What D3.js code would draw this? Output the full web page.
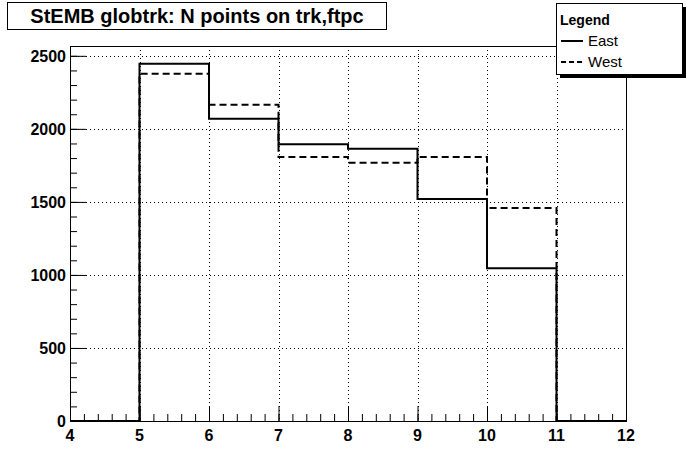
<!DOCTYPE html>
<html>
<head>
<meta charset="utf-8">
<script src="https://cdn.jsdelivr.net/npm/d3@7"></script>
<style>
  body { margin: 0; background: #fff; }
  svg text { font-family: "Liberation Sans", Arial, sans-serif; }
</style>
</head>
<body>
<svg width="696" height="468"></svg>
<script>
// histogram bins (edges) and counts per bin
var binEdges = [4, 5, 6, 7, 8, 9, 10, 11, 12];
var eastCounts = [0, 2445, 2070, 1895, 1863, 1520, 1045, 0];
var westCounts = [0, 2378, 2165, 1808, 1768, 1808, 1458, 0];
var xTicks = [4, 5, 6, 7, 8, 9, 10, 11, 12];
var yTicks = [0, 500, 1000, 1500, 2000, 2500];
var seriesNames = ["East", "West"];

var svg = d3.select("svg"),
    margin = {top: 46, right: 70, bottom: 47, left: 70},
    width = +svg.attr("width") - margin.left - margin.right,
    height = +svg.attr("height") - margin.top - margin.bottom;

svg.append("rect").attr("width", 696).attr("height", 468).attr("fill", "#fff");

var x = d3.scaleLinear().domain([4, 12]).range([0, width]);
var ymax = 1.05 * d3.max(eastCounts.concat(westCounts));
var y = d3.scaleLinear().domain([0, ymax]).range([height, 0]);

var g = svg.append("g")
    .attr("transform", "translate(" + margin.left + "," + margin.top + ")");

// dotted grid
g.selectAll(".gx").data(xTicks).enter().append("line")
    .attr("x1", function (d) { return Math.round(x(d)) + 0.5; })
    .attr("x2", function (d) { return Math.round(x(d)) + 0.5; })
    .attr("y1", 0).attr("y2", height)
    .attr("stroke", "#000").attr("stroke-width", 1)
    .attr("stroke-dasharray", "1,3");
g.selectAll(".gy").data(yTicks).enter().append("line")
    .attr("y1", function (d) { return Math.round(y(d)) + 0.5; })
    .attr("y2", function (d) { return Math.round(y(d)) + 0.5; })
    .attr("x1", 0).attr("x2", width)
    .attr("stroke", "#000").attr("stroke-width", 1)
    .attr("stroke-dasharray", "1,3");

// frame
g.append("rect")
    .attr("x", 0.5).attr("y", 0.5)
    .attr("width", width).attr("height", height)
    .attr("fill", "none").attr("stroke", "#000").attr("stroke-width", 1);

// axes
var xAxis = g.append("g").attr("transform", "translate(0," + height + ")");
xAxis.call(d3.axisTop(x).ticks(40).tickSize(7).tickFormat(""));
xAxis.call(function (a) { a.select(".domain").remove(); });
var xMajor = g.append("g").attr("transform", "translate(0," + height + ")")
    .call(d3.axisTop(x).tickValues(xTicks).tickSize(15).tickFormat(""));
xMajor.select(".domain").remove();
g.append("g").attr("transform", "translate(0," + height + ")")
    .selectAll("text").data(xTicks).enter().append("text")
    .attr("x", function (d) { return x(d); })
    .attr("y", 20)
    .attr("text-anchor", "middle")
    .attr("font-size", 16).attr("font-weight", "bold")
    .text(function (d) { return d; });

var yAxis = g.append("g")
    .call(d3.axisRight(y).tickValues(d3.range(0, 2600, 100)).tickSize(7).tickFormat(""));
yAxis.select(".domain").remove();
var yMajor = g.append("g")
    .call(d3.axisRight(y).tickValues(yTicks).tickSize(16).tickFormat(""));
yMajor.select(".domain").remove();
g.append("g").selectAll("text").data(yTicks).enter().append("text")
    .attr("x", -4)
    .attr("y", function (d) { return y(d) + 6; })
    .attr("text-anchor", "end")
    .attr("font-size", 16).attr("font-weight", "bold")
    .text(function (d) { return d; });

g.selectAll(".tick line").attr("stroke", "#000").attr("stroke-width", 1);

// histogram step lines
function steps(counts) {
    var pts = counts.map(function (c, i) { return [binEdges[i], c]; });
    pts.unshift([binEdges[0], 0]);
    pts.push([binEdges[binEdges.length - 1], counts[counts.length - 1]]);
    return pts;
}
var line = d3.line()
    .x(function (d) { return x(d[0]); })
    .y(function (d) { return y(d[1]); })
    .curve(d3.curveStepAfter);

g.append("path").datum(steps(westCounts))
    .attr("d", line).attr("fill", "none")
    .attr("stroke", "#000").attr("stroke-width", 2)
    .attr("stroke-dasharray", "7,4");
g.append("path").datum(steps(eastCounts))
    .attr("d", line).attr("fill", "none")
    .attr("stroke", "#000").attr("stroke-width", 2);

// title box
svg.append("rect").attr("x", 7.5).attr("y", 2.5).attr("width", 379).attr("height", 27)
    .attr("fill", "#fff").attr("stroke", "#000");
svg.append("text").attr("x", 197).attr("y", 23)
    .attr("text-anchor", "middle")
    .attr("font-size", 20).attr("font-weight", "bold")
    .text("StEMB globtrk: N points on trk,ftpc");

// legend with shadow
svg.append("rect").attr("x", 560).attr("y", 7).attr("width", 126).attr("height", 71).attr("fill", "#000");
svg.append("rect").attr("x", 556.5).attr("y", 3.5).attr("width", 126).attr("height", 71)
    .attr("fill", "#fff").attr("stroke", "#000");
svg.append("text").attr("x", 560).attr("y", 25)
    .attr("font-size", 14).attr("font-weight", "bold").text("Legend");
var leg = svg.append("g").selectAll("g").data(seriesNames).enter().append("g")
    .attr("transform", function (d, i) { return "translate(0," + (41 + i * 21) + ")"; });
leg.append("line").attr("x1", 561).attr("x2", 583).attr("y1", 0).attr("y2", 0)
    .attr("stroke", "#000").attr("stroke-width", 2)
    .attr("stroke-dasharray", function (d, i) { return i ? "5,3" : null; });
leg.append("text").attr("x", 588).attr("y", 5)
    .attr("font-size", 15).text(function (d) { return d; });
</script>
</body>
</html>
